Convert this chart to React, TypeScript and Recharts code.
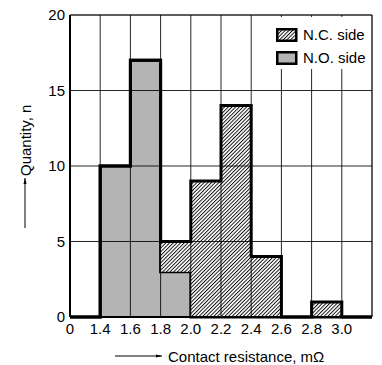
import React from 'react';
import {
  ComposedChart,
  Area,
  XAxis,
  YAxis,
  ReferenceLine,
  Legend,
} from 'recharts';

// bin edges (the axis breaks between 0 and 1.4)
const edgeLabels = ['0', '1.4', '1.6', '1.8', '2.0', '2.2', '2.4', '2.6', '2.8', '3.0'];
const noSide = [0, 10, 17, 3, 0, 0, 0, 0, 0, 0];
const ncSide = [0, 0, 0, 2, 9, 14, 4, 0, 1, 0];
const yTicks = [0, 5, 10, 15, 20];

const FONT = '"Liberation Sans", Arial, Helvetica, sans-serif';
const GRAY = '#b4b4b4';

const data = [
  ...edgeLabels.map((label, i) => ({ pos: i, label, no: noSide[i], nc: ncSide[i] })),
  { pos: edgeLabels.length, label: '', no: 0, nc: 0 },
];
const xTicks = edgeLabels.map((_, i) => i);
const gridX = data.slice(1).map((d) => d.pos);

const LegendIcon = ({ fill }: { fill: string }) => (
  <svg width={22} height={14} style={{ display: 'block' }}>
    <rect x={1.25} y={1.25} width={19} height={11.5} fill="#fff" />
    <rect x={1.25} y={1.25} width={19} height={11.5} fill={fill} stroke="#000" strokeWidth={2.5} />
  </svg>
);

const renderLegend = () => (
  <div style={{ background: '#fff', paddingTop: 6, fontFamily: FONT, fontSize: 15, color: '#000' }}>
    {[
      { name: 'N.C. side', fill: 'url(#hatch)' },
      { name: 'N.O. side', fill: GRAY },
    ].map((item) => (
      <div key={item.name} style={{ display: 'flex', alignItems: 'center', height: 23, paddingLeft: 3 }}>
        <LegendIcon fill={item.fill} />
        <span style={{ marginLeft: 5, lineHeight: '15px' }}>{item.name}</span>
      </div>
    ))}
  </div>
);

const XLabel = ({ viewBox }: any) => {
  const y = viewBox.y + 39;
  return (
    <g>
      <line x1={115} x2={162} y1={y} y2={y} stroke="#000" strokeWidth={1} />
      <polygon points={`${162},${y} ${156},${y - 1.5} ${156},${y + 1.5}`} fill="#000" />
      <text x={168} y={y} dominantBaseline="central" fontSize={15} fill="#000" fontFamily={FONT}>
        Contact resistance, mΩ
      </text>
    </g>
  );
};

const YLabel = () => {
  const x = 25;
  return (
    <g>
      <line x1={x} x2={x} y1={228} y2={178} stroke="#000" strokeWidth={1} />
      <polygon points={`${x},${178} ${x - 1.5},${184} ${x + 1.5},${184}`} fill="#000" />
      <text
        x={x}
        y={176}
        transform={`rotate(-90, ${x}, 176)`}
        dominantBaseline="central"
        fontSize={15}
        fill="#000"
        fontFamily={FONT}
      >
        Quantity, n
      </text>
    </g>
  );
};

export default function App() {
  return (
    <div style={{ position: 'absolute', left: 0, top: 0, width: 382, height: 365, background: '#fff', fontFamily: FONT }}>
      <svg width={0} height={0} style={{ position: 'absolute' }}>
        <defs>
          <pattern id="hatch" patternUnits="userSpaceOnUse" width={2.6} height={2.6} patternTransform="rotate(45)">
            <rect width={2.6} height={2.6} fill="#fff" />
            <line x1={0.5} y1={0} x2={0.5} y2={2.6} stroke="#000" strokeWidth={0.9} />
          </pattern>
        </defs>
      </svg>
      <ComposedChart width={382} height={365} data={data} margin={{ top: 15, right: 10, bottom: 18, left: 30 }}>
        <XAxis
          dataKey="pos"
          type="number"
          domain={[0, edgeLabels.length]}
          ticks={xTicks}
          tickFormatter={(v: number) => edgeLabels[v]}
          interval={0}
          height={30}
          tickLine={false}
          tickSize={0}
          tickMargin={6}
          axisLine={{ stroke: '#000', strokeWidth: 2 }}
          tick={{ fill: '#000', fontSize: 15, fontFamily: FONT }}
          label={<XLabel />}
        />
        <YAxis
          type="number"
          domain={[0, 20]}
          ticks={yTicks}
          width={40}
          tickLine={false}
          tickSize={0}
          tickMargin={5}
          axisLine={{ stroke: '#000', strokeWidth: 2 }}
          tick={{ fill: '#000', fontSize: 15, fontFamily: FONT }}
          label={<YLabel />}
        />
        <Area
          type="stepAfter"
          dataKey="no"
          stackId="a"
          fill={GRAY}
          fillOpacity={1}
          stroke="#000"
          strokeWidth={3}
          dot={false}
          activeDot={false}
          isAnimationActive={false}
        />
        <Area
          type="stepAfter"
          dataKey="nc"
          stackId="a"
          fill="url(#hatch)"
          fillOpacity={1}
          stroke="#000"
          strokeWidth={3}
          dot={false}
          activeDot={false}
          isAnimationActive={false}
        />
        {gridX.map((x) => (
          <ReferenceLine
            key={`gx${x}`}
            x={x}
            stroke="#000"
            strokeWidth={x === edgeLabels.length ? 1.5 : 1}
            strokeOpacity={0.85}
          />
        ))}
        {yTicks.slice(1).map((y) => (
          <ReferenceLine
            key={`gy${y}`}
            y={y}
            stroke="#000"
            strokeWidth={y === 20 ? 1.5 : 1}
            strokeOpacity={0.85}
          />
        ))}
        <Legend
          layout="vertical"
          align="center"
          verticalAlign="middle"
          content={renderLegend}
          wrapperStyle={{ position: 'absolute', left: 273, top: 17, width: 97, height: 50 }}
        />
      </ComposedChart>
    </div>
  );
}
